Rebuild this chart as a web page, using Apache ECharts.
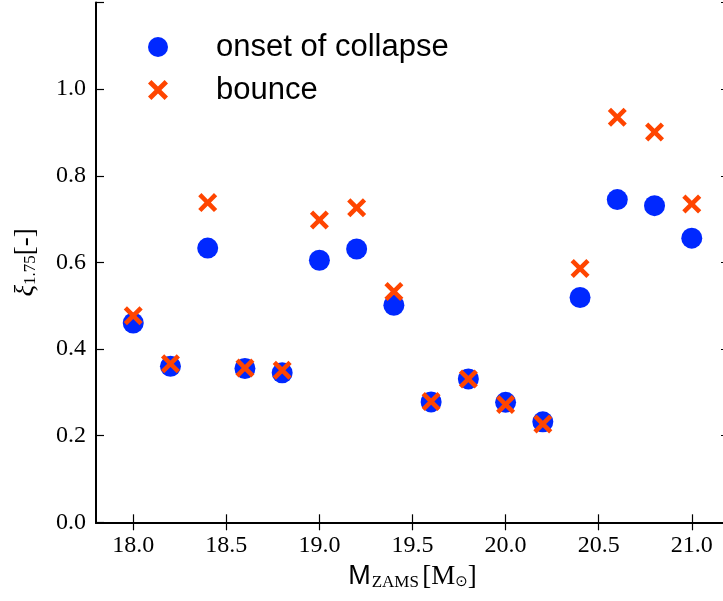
<!DOCTYPE html>
<html>
<head>
<meta charset="utf-8">
<script src="https://cdn.jsdelivr.net/npm/echarts@6/dist/echarts.min.js"></script>
<style>html,body{margin:0;padding:0;background:#fff}#c{width:723px;height:601px}</style>
</head>
<body>
<div id="c"></div>
<script>
const masses = [18.0, 18.2, 18.4, 18.6, 18.8, 19.0, 19.2, 19.4, 19.6, 19.8, 20.0, 20.2, 20.4, 20.6, 20.8, 21.0];
const onsetCollapse = [0.460, 0.360, 0.633, 0.355, 0.345, 0.605, 0.631, 0.501, 0.278, 0.331, 0.277, 0.232, 0.519, 0.745, 0.731, 0.656];
const bounce = [0.477, 0.366, 0.738, 0.356, 0.351, 0.698, 0.726, 0.533, 0.279, 0.331, 0.272, 0.227, 0.586, 0.935, 0.901, 0.735];
const xTicks = [18.0, 18.5, 19.0, 19.5, 20.0, 20.5, 21.0];
const yTicks = [0.0, 0.2, 0.4, 0.6, 0.8, 1.0, 1.2];
const yLabels = [0.0, 0.2, 0.4, 0.6, 0.8, 1.0];

const X_PATH = 'path://M0,17 L17,0 L50,33 L83,0 L100,17 L67,50 L100,83 L83,100 L50,67 L17,100 L0,83 L33,50 Z';
const BLUE = '#0028ff', ORANGE = '#ff4500';
const serif = '"Liberation Serif", "DejaVu Serif", serif';
const sans = '"Liberation Sans", Arial, sans-serif';

const chart = echarts.init(document.getElementById('c'), null, {renderer: 'canvas'});
const axLine = {show: true, lineStyle: {color: '#000', width: 2}};
const tick = {show: true, inside: true, length: 8, lineStyle: {color: '#000', width: 1.2}};
chart.setOption({
  animation: false,
  backgroundColor: '#fff',
  grid: {left: 96, width: 633, top: 2.5, height: 519.8, containLabel: false, outerBoundsMode: 'none'},
  legend: {
    orient: 'vertical', left: 143, top: 26.5,
    itemWidth: 20, itemHeight: 20, itemGap: 12,
    textStyle: {fontFamily: sans, fontSize: 31, color: '#000', padding: [0, 0, 0, 43]},
    data: [
      {name: 'onset of collapse', icon: 'circle'},
      {name: 'bounce', icon: X_PATH}
    ]
  },
  xAxis: [{
    type: 'value', min: 17.8, max: 21.2, position: 'bottom',
    axisLine: axLine, splitLine: {show: false},
    axisTick: Object.assign({customValues: xTicks}, tick),
    axisLabel: {customValues: xTicks, formatter: v => v.toFixed(1), fontFamily: serif, fontSize: 24, color: '#000', margin: 11},
    name: '{m|M}{s|ZAMS} {r|[M}{o|⊙}{r|]}',
    nameLocation: 'middle', nameGap: 40,
    nameTextStyle: {
      rich: {
        m: {fontFamily: sans, fontSize: 27, color: '#000'},
        s: {fontFamily: serif, fontSize: 17, color: '#000', padding: [12, 0, 0, 1]},
        r: {fontFamily: serif, fontSize: 27, color: '#000'},
        o: {fontFamily: '"DejaVu Sans", sans-serif', fontSize: 15, color: '#000', padding: [10, 0, 0, 0]}
      }
    }
  }, {
    type: 'value', min: 17.8, max: 21.2, position: 'top',
    axisLine: axLine, splitLine: {show: false},
    axisTick: Object.assign({customValues: xTicks}, tick),
    axisLabel: {show: false}
  }],
  yAxis: [{
    type: 'value', min: 0, max: 1.2, position: 'left',
    axisLine: axLine, splitLine: {show: false},
    axisTick: Object.assign({customValues: yTicks}, tick),
    axisLabel: {customValues: yLabels, formatter: v => v.toFixed(1), fontFamily: serif, fontSize: 24, color: '#000', margin: 10},
    name: '{x|ξ}{s|1.75}{r|[-]}',
    nameLocation: 'middle', nameRotate: 90, nameGap: 57,
    nameTextStyle: {
      rich: {
        x: {fontFamily: serif, fontSize: 27, color: '#000', fontStyle: 'italic'},
        s: {fontFamily: serif, fontSize: 17, color: '#000', padding: [10, 0, 0, 0]},
        r: {fontFamily: serif, fontSize: 27, color: '#000'}
      }
    }
  }, {
    type: 'value', min: 0, max: 1.2, position: 'right',
    axisLine: axLine, splitLine: {show: false},
    axisTick: Object.assign({customValues: yTicks}, tick),
    axisLabel: {show: false}
  }],
  series: [{
    name: 'onset of collapse', type: 'scatter', symbol: 'circle', symbolSize: 21,
    itemStyle: {color: BLUE, opacity: 1},
    data: masses.map((m, i) => [m, onsetCollapse[i]]),
    z: 2
  }, {
    name: 'bounce', type: 'scatter', symbol: X_PATH, symbolSize: 19,
    itemStyle: {color: ORANGE, opacity: 1},
    data: masses.map((m, i) => [m, bounce[i]]),
    z: 3
  }]
});
</script>
</body>
</html>
